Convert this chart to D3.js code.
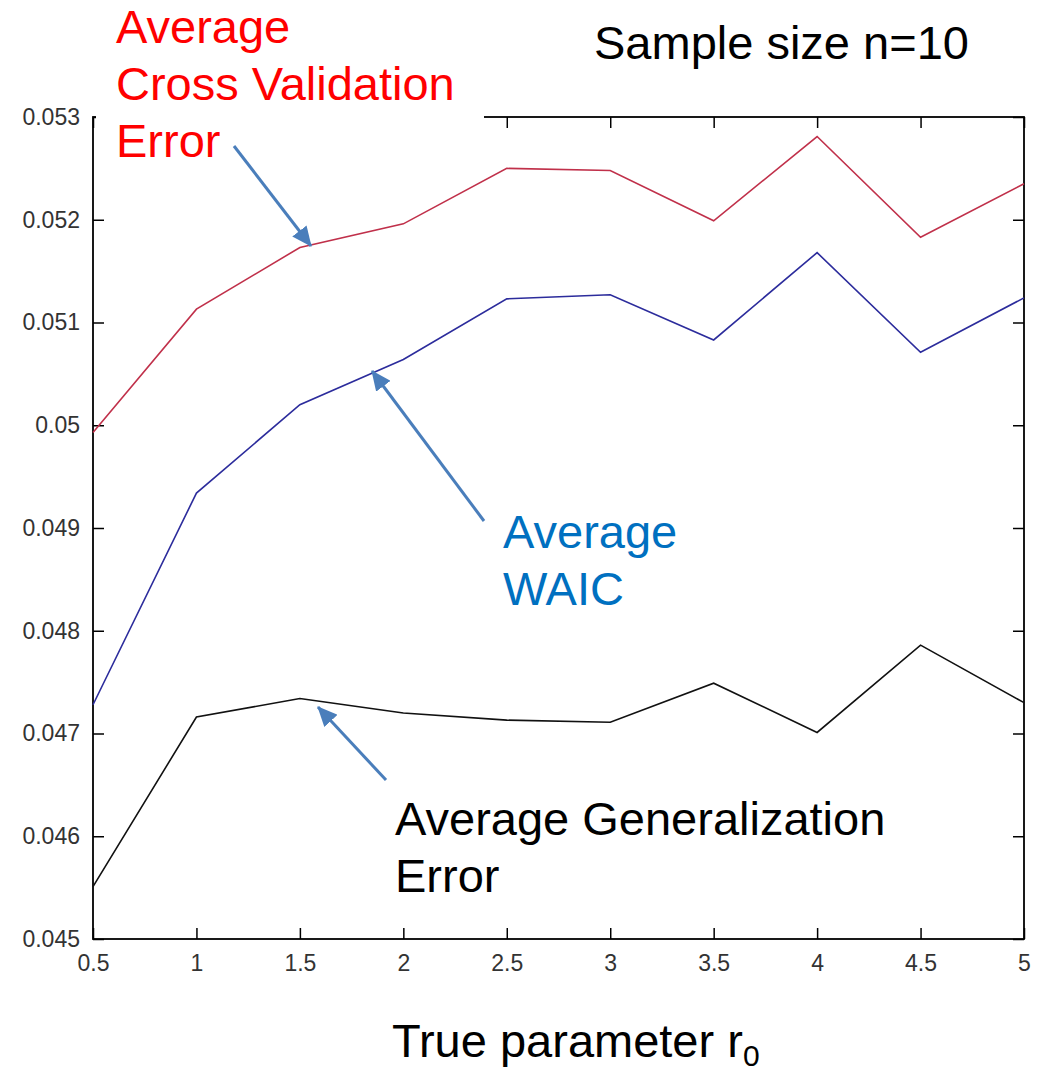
<!DOCTYPE html>
<html>
<head>
<meta charset="utf-8">
<script src="https://cdn.jsdelivr.net/npm/d3@7"></script>
<style>
  html, body { margin: 0; padding: 0; background: #fff; }
  svg { display: block; }
</style>
</head>
<body>
<div id="chart"></div>
<script>
// data (n = 10)
const rValues = [0.5, 1, 1.5, 2, 2.5, 3, 3.5, 4, 4.5, 5];
const cvError = [0.04993, 0.05113, 0.05173, 0.05196, 0.05250, 0.05248, 0.05199, 0.05281, 0.05183, 0.05235];
const waic = [0.04728, 0.04934, 0.05020, 0.05064, 0.05123, 0.05127, 0.05083, 0.05168, 0.05071, 0.05124];
const genError = [0.04551, 0.04716, 0.04734, 0.04720, 0.04713, 0.04711, 0.04749, 0.04701, 0.04786, 0.04730];

const xTicks = [0.5, 1, 1.5, 2, 2.5, 3, 3.5, 4, 4.5, 5];
const yTicks = [0.045, 0.046, 0.047, 0.048, 0.049, 0.05, 0.051, 0.052, 0.053];

const width = 1038, height = 1074;
const plot = { left: 93, right: 1024, top: 117, bottom: 939 };

const svg = d3.select("#chart").append("svg")
  .attr("width", width)
  .attr("height", height);

const x = d3.scaleLinear().domain([0.5, 5]).range([plot.left, plot.right]);
const y = d3.scaleLinear().domain([0.045, 0.053]).range([plot.bottom, plot.top]);

const fmt = d => String(+d.toFixed(3));
const tickFont = "'Liberation Sans', Arial, sans-serif";

// axes with inward ticks on all four sides (matlab box style)
function styleAxis(g, showLabels) {
  g.select(".domain").remove();
  g.selectAll(".tick line").attr("stroke", "#000").attr("stroke-width", 1.5);
  g.selectAll(".tick text")
    .style("font-family", tickFont)
    .style("font-size", "23px")
    .attr("fill", "#333");
  if (!showLabels) g.selectAll(".tick text").remove();
}

svg.append("g")
  .attr("transform", `translate(0,${plot.bottom})`)
  .call(d3.axisBottom(x).tickValues(xTicks).tickFormat(fmt).tickSizeInner(-11).tickSizeOuter(0).tickPadding(16))
  .call(g => styleAxis(g, true));

svg.append("g")
  .attr("transform", `translate(0,${plot.top})`)
  .call(d3.axisTop(x).tickValues(xTicks).tickSizeInner(-11).tickSizeOuter(0))
  .call(g => styleAxis(g, false));

svg.append("g")
  .attr("transform", `translate(${plot.left},0)`)
  .call(d3.axisLeft(y).tickValues(yTicks).tickFormat(fmt).tickSizeInner(-11).tickSizeOuter(0).tickPadding(13))
  .call(g => styleAxis(g, true));

svg.append("g")
  .attr("transform", `translate(${plot.right},0)`)
  .call(d3.axisRight(y).tickValues(yTicks).tickSizeInner(-11).tickSizeOuter(0))
  .call(g => styleAxis(g, false));

// frame
svg.append("rect")
  .attr("x", plot.left)
  .attr("y", plot.top)
  .attr("width", plot.right - plot.left)
  .attr("height", plot.bottom - plot.top)
  .attr("fill", "none")
  .attr("stroke", "#000")
  .attr("stroke-width", 1.8);

// series lines
const line = d3.line().x((d, i) => x(rValues[i])).y(d => y(d));
const series = [
  { values: cvError, color: "#c0304a" },
  { values: waic, color: "#2c2c9c" },
  { values: genError, color: "#111" }
];
svg.selectAll(".series")
  .data(series)
  .join("path")
  .attr("class", "series")
  .attr("d", d => line(d.values))
  .attr("fill", "none")
  .attr("stroke", d => d.color)
  .attr("stroke-width", 1.6);

// white box behind the red label covers the top-left of the frame
svg.append("rect")
  .attr("x", plot.left + 3)
  .attr("y", 0)
  .attr("width", 484 - plot.left - 3)
  .attr("height", 165)
  .attr("fill", "#fff");

// annotations
const labelFont = "'Liberation Sans', Arial, sans-serif";
function addLabel(lines, px, py, color) {
  const t = svg.append("text")
    .attr("x", px)
    .attr("y", py)
    .attr("fill", color)
    .style("font-family", labelFont)
    .style("font-size", "47px");
  lines.forEach((s, i) => {
    t.append("tspan").attr("x", px).attr("dy", i === 0 ? 0 : 57).text(s);
  });
  return t;
}
addLabel(["Average", "Cross Validation", "Error"], 116, 43, "#ff0000");
addLabel(["Sample size n=10"], 594, 59, "#000");
addLabel(["Average", "WAIC"], 503, 548, "#0070c0");
addLabel(["Average Generalization", "Error"], 395, 835, "#000");

const xLabel = addLabel(["True parameter r"], 392, 1057, "#000");
xLabel.append("tspan")
  .attr("dy", 9)
  .style("font-size", "30px")
  .text("0");

// arrows
const arrowColor = "#4a7ebb";
svg.append("defs").append("marker")
  .attr("id", "head")
  .attr("markerUnits", "userSpaceOnUse")
  .attr("viewBox", "0 0 20 18")
  .attr("refX", 19)
  .attr("refY", 9)
  .attr("markerWidth", 20)
  .attr("markerHeight", 18)
  .attr("orient", "auto")
  .append("path")
  .attr("d", "M0,0 L20,9 L0,18 Z")
  .attr("fill", arrowColor);

const arrows = [
  { x1: 234, y1: 146, x2: 311, y2: 246 },
  { x1: 484, y1: 521, x2: 372, y2: 371 },
  { x1: 386, y1: 780, x2: 318, y2: 707 }
];
svg.selectAll(".arrow")
  .data(arrows)
  .join("line")
  .attr("class", "arrow")
  .attr("x1", d => d.x1)
  .attr("y1", d => d.y1)
  .attr("x2", d => d.x2)
  .attr("y2", d => d.y2)
  .attr("stroke", arrowColor)
  .attr("stroke-width", 3)
  .attr("marker-end", "url(#head)");
</script>
</body>
</html>
